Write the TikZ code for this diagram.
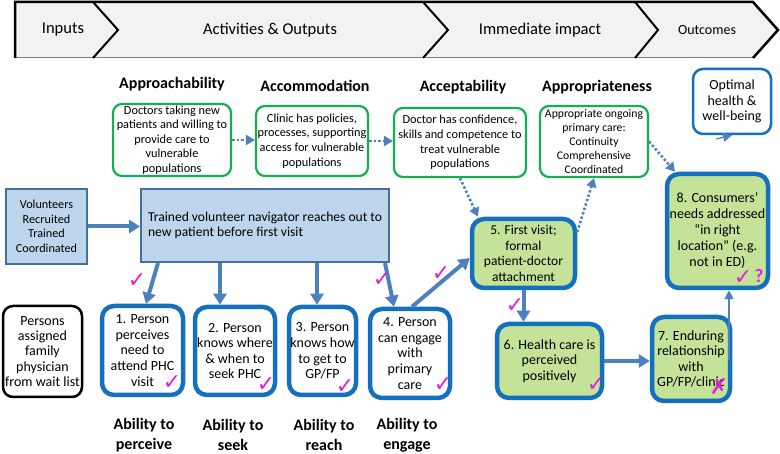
\documentclass[tikz,border=0pt]{standalone}
\usepackage{fontspec}
\setmainfont{Carlito}
\newfontfamily\symfont{DejaVu Sans}
\usetikzlibrary{arrows.meta}
\definecolor{greenline}{RGB}{20,176,80}
\definecolor{boxblue}{RGB}{20,112,190}
\definecolor{arrowblue}{RGB}{76,128,190}
\definecolor{lbfill}{RGB}{190,214,237}
\definecolor{lbborder}{RGB}{65,113,156}
\definecolor{greenfill}{RGB}{196,226,152}
\definecolor{mag}{RGB}{225,30,225}
\definecolor{bannergray}{RGB}{242,242,242}
\begin{document}
\begin{tikzpicture}[x=1pt,y=-1pt,
  gbox/.style={draw=greenline, line width=2.2pt, rounded corners=9pt, fill=white, align=center, inner sep=0pt, font=\fontsize{12.3}{14.6}\selectfont},
  bbox/.style={draw=boxblue, line width=4.5pt, rounded corners=12pt, fill=white, align=center, inner sep=0pt, font=\fontsize{14}{15.6}\selectfont},
  gnbox/.style={bbox, fill=greenfill},
  lbbox/.style={draw=lbborder, line width=2pt, fill=lbfill, inner sep=0pt, font=\fontsize{12.2}{14.5}\selectfont},
  obox/.style={draw=boxblue, line width=2.5pt, rounded corners=10pt, fill=white, align=center, inner sep=0pt, font=\fontsize{14}{15.6}\selectfont},
  kbox/.style={draw=black, line width=2.5pt, rounded corners=10pt, fill=white, align=center, inner sep=0pt, font=\fontsize{14}{15.2}\selectfont},
  hdr/.style={font=\bfseries\fontsize{16}{18}\selectfont, inner sep=0pt},
  abil/.style={font=\bfseries\fontsize{16}{20}\selectfont, align=center, inner sep=0pt},
  bann/.style={font=\fontsize{16.5}{20}\selectfont, inner sep=0pt},
  thickarrow/.style={arrowblue, line width=4pt, -{Triangle[width=13pt,length=11pt]}},
  midarrow/.style={arrowblue, line width=2pt, -{Triangle[width=9pt,length=9pt]}},
  dotarrow/.style={arrowblue, line width=2.6pt, dash pattern=on 2.4pt off 2.2pt, -{Triangle[width=10pt,length=9pt]}},
  chk/.style={text=mag, font=\symfont\bfseries\fontsize{22}{22}\selectfont, inner sep=0pt}
]
\useasboundingbox (0,0) rectangle (780,454);
% banner
\fill[bannergray] (15,2) -- (753,2) -- (778,30) -- (753,58) -- (15,58) -- cycle;
\draw[gray, line width=1pt] (15,58) -- (753,58);
\draw[line width=2.5pt, line join=miter] (15,58) -- (15,2) -- (753,2) -- (778,30) -- (753,58);
\draw[line width=2pt] (93,2) -- (118,30) -- (93,58);
\draw[line width=2pt] (423,2) -- (448,30) -- (423,58);
\draw[line width=2pt] (635,2) -- (658,30) -- (635,58);
\node[bann] (t1) at (63,30) {Inputs};
\node[bann] (t2) at (270,30) {Activities \& Outputs};
\node[bann] (t3) at (540,30) {Immediate impact};
\node[bann, font=\fontsize{14}{16}\selectfont] (t4) at (707,30) {Outcomes};
% headers
\node[hdr] (h1) at (172,84) {Approachability};
\node[hdr] (h2) at (315,86) {Accommodation};
\node[hdr] (h3) at (463,87) {Acceptability};
\node[hdr] (h4) at (597,87) {Appropriateness};
% green boxes
\node[gbox, minimum width=118, minimum height=72] (A) at (172,140) {Doctors taking new\\patients and willing to\\provide care to\\vulnerable\\populations};
\node[gbox, minimum width=112, minimum height=70] (B) at (312,141) {Clinic has policies,\\processes, supporting\\access for vulnerable\\populations};
\node[gbox, minimum width=132, minimum height=69] (C) at (460,142.5) {Doctor has confidence,\\skills and competence to\\treat vulnerable\\populations};
\node[gbox, minimum width=108, minimum height=71, font=\fontsize{11.7}{14.2}\selectfont] (D) at (594,141.5) {Appropriate ongoing\\primary care:\\Continuity\\Comprehensive\\Coordinated};
\node[obox, minimum width=78, minimum height=65] (Opt) at (732,101.5) {Optimal\\health \&\\well-being};
% light blue boxes
\node[lbbox, minimum width=81, minimum height=75, align=center] (Vol) at (46.5,226.5) {Volunteers\\Recruited\\Trained\\Coordinated};
\node[lbbox, minimum width=248, minimum height=73, font=\fontsize{13.6}{15}\selectfont] (Tr) at (265,225.5) {\raisebox{-3pt}{\parbox{234pt}{\raggedright Trained volunteer navigator reaches out to\\new patient before first visit}}};
% persons box
\node[kbox, minimum width=79, minimum height=91] (P) at (42.5,351.5) {Persons\\assigned\\family\\physician\\from wait list};
% boxes 1-4
\node[bbox, minimum width=81, minimum height=89] (b1) at (142.5,350.5) {1. Person\\perceives\\need to\\attend PHC\\visit};
\node[bbox, minimum width=80, minimum height=88] (b2) at (235,351) {2. Person\\knows where\\\& when to\\seek PHC};
\node[bbox, minimum width=67, minimum height=88] (b3) at (322.5,351) {3. Person\\knows how\\to get to\\GP/FP};
\node[bbox, minimum width=80, minimum height=89] (b4) at (410,353.5) {4. Person\\can engage\\with\\primary\\care};
% green filled boxes
\node[gnbox, minimum width=103, minimum height=69, font=\fontsize{13.5}{15.5}\selectfont] (b5) at (523.5,253.5) {5. First visit;\\formal\\patient-doctor\\attachment};
\node[gnbox, minimum width=105, minimum height=74] (b6) at (549.5,361) {6. Health care is\\perceived\\positively};
\node[gnbox, minimum width=78, minimum height=84] (b7) at (691,359) {7. Enduring\\relationship\\with\\GP/FP/clinic};
\node[gnbox, minimum width=101, minimum height=114, font=\fontsize{14}{16}\selectfont] (b8) at (717.5,231) {8. Consumers’\\needs addressed\\“in right\\location” (e.g.\\not in ED)};
% ability labels
\node[abil] (a1) at (144,435) {Ability to\\perceive};
\node[abil] (a2) at (233,435) {Ability to\\seek};
\node[abil] (a3) at (324,435) {Ability to\\reach};
\node[abil] (a4) at (407,435) {Ability to\\engage};
% thick arrows
\draw[thickarrow] (Vol.east) -- (Vol.east -| Tr.west);
\draw[thickarrow] ([xshift=-107pt]Tr.south) -- ([xshift=3.5pt]b1.north);
\draw[thickarrow] ([xshift=-45pt]Tr.south) -- ([xshift=-15pt]b2.north);
\draw[thickarrow] ([xshift=52pt]Tr.south) -- ([xshift=-5.5pt]b3.north);
\draw[thickarrow] ([xshift=120pt]Tr.south) -- ([xshift=-16pt]b4.north);
\draw[thickarrow] ([xshift=2pt]b4.north) -- ([yshift=-4.5pt]b5.west);
\draw[thickarrow] (b5.south) -- (b5.south |- b6.north);
\draw[thickarrow] (b6.east) -- (b6.east -| b7.west);
\coordinate (s78) at (729,360);
\draw[midarrow] (s78) -- (s78 |- b8.south);
\coordinate (oh) at (716,139);
\draw[midarrow, line width=1.2pt] (oh) -- (Opt.south);
% dotted arrows
\draw[dotarrow] (A.east) -- (A.east -| B.west);
\draw[dotarrow] (B.east) -- (B.east -| C.west);
\draw[dotarrow] (C.south) -- ([xshift=-45.5pt]b5.north);
\draw[dotarrow] ([yshift=21.5pt]b5.east) -- (D.south);
\draw[dotarrow] (D.east) -- ([xshift=-42.5pt]b8.north);
% check marks
\node[chk] (c1) at (137,281) {✓};
\node[chk] (c2) at (382,280) {✓};
\node[chk] (c3) at (441,274) {✓};
\node[chk] (c4) at (515,306) {✓};
\node[chk] (c5) at (172,383) {✓};
\node[chk] (c6) at (266,385) {✓};
\node[chk] (c7) at (345,387) {✓};
\node[chk] (c8) at (443,385) {✓};
\node[chk] (c9) at (596,385) {✓};
\node[chk] (c10) at (719,387) {✗};
\node[chk] (c11) at (743,278) {✓};
\node[chk, font=\bfseries\fontsize{19}{19}\selectfont] (c12) at (759,276) {?};
\end{tikzpicture}
\end{document}
